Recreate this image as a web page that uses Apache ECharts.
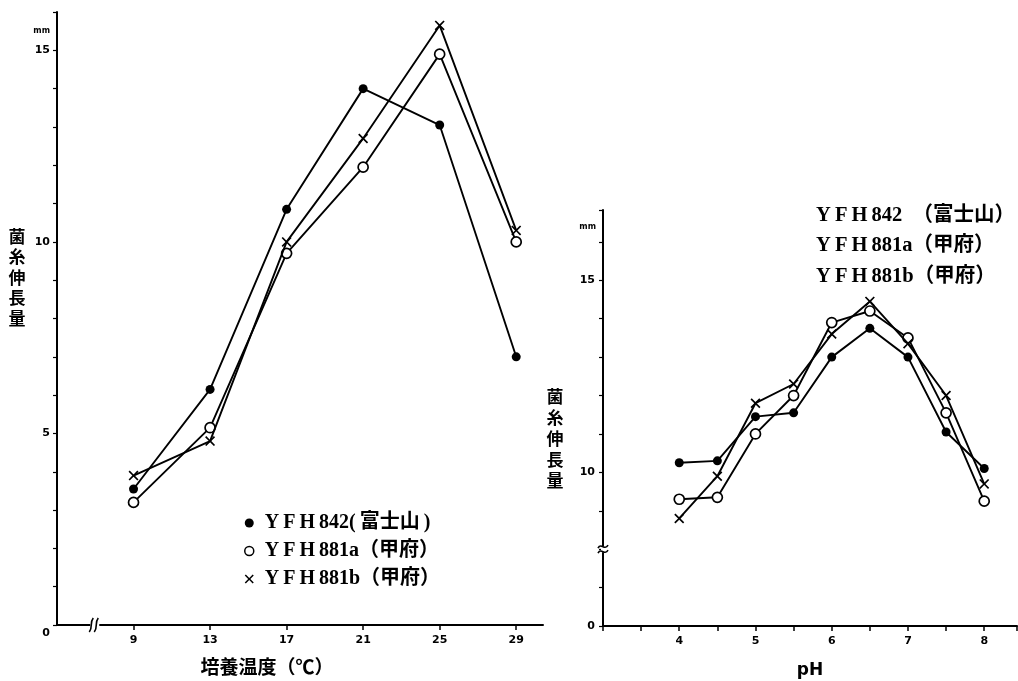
<!DOCTYPE html>
<html>
<head>
<meta charset="utf-8">
<script src="https://cdn.jsdelivr.net/npm/echarts@6/dist/echarts.min.js"></script>
<style>
  html, body { margin: 0; padding: 0; background: #fff; }
  #chart { width: 1018px; height: 681px; }
</style>
</head>
<body>
<div id="chart"></div>
<script>
// Strains compared in both panels
const strainNames = ['YFH842', 'YFH881a', 'YFH881b'];
const tempLegendText = ['Y\u2009F\u2009H\u2009842(\u2009富士山\u2009)', 'Y\u2009F\u2009H\u2009881a（甲府）', 'Y\u2009F\u2009H\u2009881b（甲府）'];
const phLegendText = ['Y\u2009F\u2009H\u2009842\u2002（富士山）', 'Y\u2009F\u2009H\u2009881a（甲府）', 'Y\u2009F\u2009H\u2009881b（甲府）'];

// Culture temperature (°C) vs. mycelial growth (mm)
const tempValues = [9, 13, 17, 21, 25, 29];
const tempYFH842 = [3.55, 6.15, 10.85, 14.0, 13.05, 7.0];
const tempYFH881a = [3.2, 5.15, 9.7, 11.95, 14.9, 10.0];
const tempYFH881b = [3.9, 4.8, 10.0, 12.7, 15.65, 10.3];

// pH vs. mycelial growth (mm)
const phValues = [4, 4.5, 5, 5.5, 6, 6.5, 7, 7.5, 8];
const phYFH842 = [10.25, 10.3, 11.45, 11.55, 13.0, 13.75, 13.0, 11.05, 10.1];
const phYFH881a = [9.3, 9.35, 11.0, 12.0, 13.9, 14.2, 13.5, 11.55, 9.25];
const phYFH881b = [8.8, 9.9, 11.8, 12.3, 13.6, 14.45, 13.35, 12.0, 9.7];

// Axis tick labels
const tempTickLabels = [9, 13, 17, 21, 25, 29];
const growthTickLabels = [0, 5, 10, 15];
const phTickLabels = [4, 5, 6, 7, 8];

const INK = '#000';
const SANS = "'DejaVu Sans', 'Noto Sans CJK JP', sans-serif";
const SERIF = "'Liberation Serif', 'Noto Sans CJK JP', serif";
const CJK = "'Noto Sans CJK JP', sans-serif";
const CROSS = 'path://M0,1.2L1.2,0L5,3.8L8.8,0L10,1.2L6.2,5L10,8.8L8.8,10L5,6.2L1.2,10L0,8.8L3.8,5Z';

const pair = (xs, ys) => xs.map((x, i) => [x, ys[i]]);
const isTick = (v, list) => list.some(t => Math.abs(v - t) < 1e-6);

const tickFont = { color: INK, fontSize: 11, fontWeight: 'bold', fontFamily: SANS };
const yTitle = ['菌', '糸', '伸', '長', '量'];

function strainSeries(xi, yi, xs, sets) {
  const looks = [
    { symbol: 'circle', symbolSize: 9, itemStyle: { color: INK } },
    { symbol: 'circle', symbolSize: 10, itemStyle: { color: '#fff', borderColor: INK, borderWidth: 1.7 } },
    { symbol: CROSS, symbolSize: 10, itemStyle: { color: INK } }
  ];
  return sets.map((ys, k) => Object.assign({
    name: strainNames[k],
    type: 'line',
    xAxisIndex: xi,
    yAxisIndex: yi,
    data: pair(xs, ys),
    lineStyle: { color: INK, width: 1.9 },
    emphasis: { disabled: true },
    animation: false,
    z: 3 + k
  }, looks[k]));
}

const chart = echarts.init(document.getElementById('chart'), null, { renderer: 'canvas' });

const option = {
  backgroundColor: '#fff',
  animation: false,
  grid: [
    { left: 57, top: 12, width: 486, height: 613, outerBoundsMode: 'none', containLabel: false },
    { left: 603, top: 210, width: 414, height: 416, outerBoundsMode: 'none', containLabel: false }
  ],
  xAxis: [
    {
      gridIndex: 0, type: 'value', min: 0, max: 30.4,
      breaks: [{ start: 2, end: 7, gap: 0 }],
      breakArea: { show: false },
      axisLine: { show: true, onZero: false, lineStyle: { color: INK, width: 2 } },
      axisTick: { show: true, length: 5, customValues: tempTickLabels, lineStyle: { color: INK, width: 1.5 } },
      axisLabel: Object.assign({ customValues: tempTickLabels, margin: 10 }, tickFont),
      splitLine: { show: false },
      name: '培養温度（℃）', nameLocation: 'middle', nameGap: 32, nameMoveOverlap: false,
      nameTextStyle: { color: INK, fontSize: 19, fontWeight: 'bold', fontFamily: CJK, padding: [0, 66, 0, 0] }
    },
    {
      gridIndex: 1, type: 'value', min: 3, max: 8.43, interval: 0.5,
      axisLine: { show: true, onZero: false, lineStyle: { color: INK, width: 2 } },
      axisTick: { show: true, length: 5, lineStyle: { color: INK, width: 1.5 } },
      axisLabel: Object.assign({ margin: 10, formatter: v => isTick(v, phTickLabels) ? String(Math.round(v)) : '' }, tickFont),
      splitLine: { show: false },
      name: 'pH', nameLocation: 'middle', nameGap: 36, nameMoveOverlap: false,
      nameTextStyle: { color: INK, fontSize: 17, fontWeight: 'bold', fontFamily: SANS }
    }
  ],
  yAxis: [
    {
      gridIndex: 0, type: 'value', min: 0, max: 16, interval: 1,
      axisLine: { show: true, onZero: false, lineStyle: { color: INK, width: 2 } },
      axisTick: { show: true, length: 4, lineStyle: { color: INK, width: 1.2 } },
      axisLabel: Object.assign({
        margin: 7,
        formatter: v => v === 0 ? '{o|0}' : (isTick(v, growthTickLabels) ? String(Math.round(v)) : ''),
        rich: { o: { padding: [16, 0, 0, 0], color: INK, fontSize: 11, fontWeight: 'bold', fontFamily: SANS } }
      }, tickFont),
      splitLine: { show: false },
      // blank lines below the characters lift the vertical title above the axis middle
      name: yTitle.concat([' ', ' ', ' ', ' ']).join('\n'),
      nameLocation: 'middle', nameGap: 40, nameRotate: 0, nameMoveOverlap: false,
      nameTextStyle: { color: INK, fontSize: 17, lineHeight: 20.5, fontWeight: 'bold', fontFamily: CJK, align: 'center' }
    },
    {
      gridIndex: 1, type: 'value', min: 0, max: 16.83, interval: 1,
      breaks: [{ start: 2, end: 8, gap: 0 }],
      breakArea: { show: false },
      axisLine: { show: true, onZero: false, lineStyle: { color: INK, width: 2 } },
      axisTick: { show: true, length: 4, lineStyle: { color: INK, width: 1.2 } },
      axisLabel: Object.assign({
        margin: 8,
        formatter: v => isTick(v, growthTickLabels) ? String(Math.round(v)) : ''
      }, tickFont),
      splitLine: { show: false },
      // blank lines above the characters lower the vertical title below the axis middle
      name: [' ', ' '].concat(yTitle).join('\n'),
      nameLocation: 'middle', nameGap: 48, nameRotate: 0, nameMoveOverlap: false,
      nameTextStyle: { color: INK, fontSize: 17, lineHeight: 21, fontWeight: 'bold', fontFamily: CJK, align: 'center' }
    }
  ],
  legend: [
    {
      orient: 'vertical', left: 239, top: 508, itemWidth: 9, itemHeight: 9, itemGap: 8,
      selectedMode: false,
      data: [
        { name: strainNames[0], icon: 'circle', itemStyle: { color: INK } },
        { name: strainNames[1], icon: 'circle', itemStyle: { color: '#fff', borderColor: INK, borderWidth: 1.5 } },
        { name: strainNames[2], icon: CROSS, itemStyle: { color: INK } }
      ],
      formatter: n => tempLegendText[strainNames.indexOf(n)],
      textStyle: { color: INK, fontSize: 20, fontWeight: 'bold', fontFamily: SERIF, padding: [0, 0, 0, 6] }
    },
    {
      orient: 'vertical', left: 806, top: 200, itemWidth: 0, itemHeight: 0, itemGap: 10,
      selectedMode: false, icon: 'none',
      data: strainNames,
      formatter: n => phLegendText[strainNames.indexOf(n)],
      textStyle: { color: INK, fontSize: 20.5, fontWeight: 'bold', fontFamily: SERIF }
    }
  ],
  series: [
    ...strainSeries(0, 0, tempValues, [tempYFH842, tempYFH881a, tempYFH881b]),
    ...strainSeries(1, 1, phValues, [phYFH842, phYFH881a, phYFH881b])
  ]
};

chart.setOption(option);

// Unit marks and axis-break glyphs placed from the axes' own scales
const unitLeft = chart.convertToPixel({ gridIndex: 0 }, [0, 15.5]);
const unitRight = chart.convertToPixel({ gridIndex: 1 }, [3, 16.4]);
const breakX = chart.convertToPixel({ xAxisIndex: 0 }, 7);
const axisYLeft = chart.convertToPixel({ yAxisIndex: 0 }, 0);
const breakY = chart.convertToPixel({ yAxisIndex: 1 }, 8);
const axisXRight = chart.convertToPixel({ xAxisIndex: 1 }, 3);

const stroke = { stroke: INK, lineWidth: 1.6, fill: null };
chart.setOption({
  graphic: [
    { type: 'text', x: unitLeft[0] - 7, y: unitLeft[1], style: { text: 'mm', align: 'right', verticalAlign: 'middle', fill: INK, font: 'bold 8px ' + SANS } },
    { type: 'text', x: unitRight[0] - 7, y: unitRight[1], style: { text: 'mm', align: 'right', verticalAlign: 'middle', fill: INK, font: 'bold 8px ' + SANS } },
    // "//" on the temperature axis
    { type: 'rect', shape: { x: breakX - 5, y: axisYLeft - 3, width: 9, height: 6 }, style: { fill: '#fff' }, z: 10 },
    { type: 'bezierCurve', shape: { x1: breakX - 6, y1: axisYLeft + 7, x2: breakX - 2, y2: axisYLeft - 7, cpx1: breakX - 2, cpy1: axisYLeft + 2, cpx2: breakX - 6, cpy2: axisYLeft - 2 }, style: stroke, z: 11 },
    { type: 'bezierCurve', shape: { x1: breakX - 1, y1: axisYLeft + 7, x2: breakX + 3, y2: axisYLeft - 7, cpx1: breakX + 3, cpy1: axisYLeft + 2, cpx2: breakX - 1, cpy2: axisYLeft - 2 }, style: stroke, z: 11 },
    // wavy break on the growth axis of the pH panel
    { type: 'rect', shape: { x: axisXRight - 2, y: breakY - 3, width: 5, height: 6 }, style: { fill: '#fff' }, z: 10 },
    { type: 'bezierCurve', shape: { x1: axisXRight - 5, y1: breakY - 1, x2: axisXRight + 5, y2: breakY - 4, cpx1: axisXRight - 2, cpy1: breakY - 7, cpx2: axisXRight + 2, cpy2: breakY + 2 }, style: stroke, z: 11 },
    { type: 'bezierCurve', shape: { x1: axisXRight - 5, y1: breakY + 4, x2: axisXRight + 5, y2: breakY + 1, cpx1: axisXRight - 2, cpy1: breakY - 2, cpx2: axisXRight + 2, cpy2: breakY + 7 }, style: stroke, z: 11 }
  ]
});
</script>
</body>
</html>
